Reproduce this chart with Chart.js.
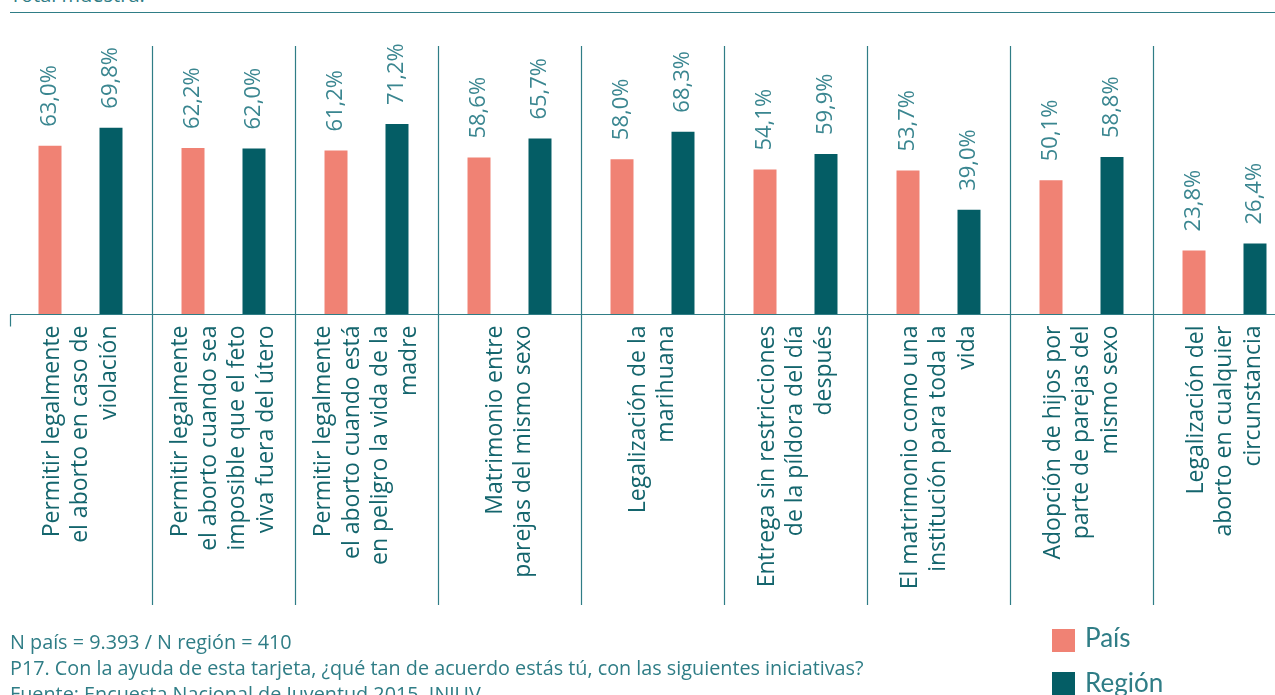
<!DOCTYPE html>
<html>
<head>
<meta charset="utf-8">
<script src="https://cdn.jsdelivr.net/npm/chart.js@4.4.0/dist/chart.umd.min.js"></script>
<style>
  html, body { margin: 0; padding: 0; background: #fff; overflow: hidden; width: 1275px; height: 695px; }
  #wrap { position: relative; width: 1275px; height: 695px; overflow: hidden; }
  #chart { position: absolute; left: 0; top: 0; }
  .title { position: absolute; left: 10px; top: -19px; font: 20px "Open Sans", sans-serif; color: #2f7d86; }
  .topline { position: absolute; left: 10px; top: 12px; width: 1265px; height: 1px; background: #2f7d86; }
  .foot { position: absolute; left: 10px; font: 19.8px "Open Sans", sans-serif; color: #2f7d86; white-space: nowrap; }
  .leg { position: absolute; left: 1052px; font: 26px "Lato", "Open Sans", sans-serif; color: #2f7d86; }
  .leg span.sw { position: absolute; left: 0; width: 23px; height: 23px; }
  .leg span.tx { position: absolute; left: 33px; white-space: nowrap; }
</style>
</head>
<body>
<div id="wrap">
  <div class="title">Total muestra.</div>
  <div class="topline"></div>
  <canvas id="chart" width="1300" height="695"></canvas>
  <div class="foot" style="top:628px">N país = 9.393 / N región = 410</div>
  <div class="foot" style="top:654px">P17. Con la ayuda de esta tarjeta, ¿qué tan de acuerdo estás tú, con las siguientes iniciativas?</div>
  <div class="foot" style="top:680px">Fuente: Encuesta Nacional de Juventud 2015, INJUV.</div>
  <div class="leg" style="top:629px"><span class="sw" style="background:#f08274"></span><span class="tx" style="top:-8px">País</span></div>
  <div class="leg" style="top:672px"><span class="sw" style="background:#045d65"></span><span class="tx" style="top:-6px">Región</span></div>
</div>
<script>
// Data
const categories = [
    ['Permitir legalmente', 'el aborto en caso de', 'violación'],
    ['Permitir legalmente', 'el aborto cuando sea', 'imposible que el feto', 'viva fuera del útero'],
    ['Permitir legalmente', 'el aborto cuando está', 'en peligro la vida de la', 'madre'],
    ['Matrimonio entre', 'parejas del mismo sexo'],
    ['Legalización de la', 'marihuana'],
    ['Entrega sin restricciones', 'de la píldora del día', 'después'],
    ['El matrimonio como una', 'institución para toda la', 'vida'],
    ['Adopción de hijos por', 'parte de parejas del', 'mismo sexo'],
    ['Legalización del', 'aborto en cualquier', 'circunstancia']
];
const paisValues = [63.0, 62.2, 61.2, 58.6, 58.0, 54.1, 53.7, 50.1, 23.8];
const regionValues = [69.8, 62.0, 71.2, 65.7, 68.3, 59.9, 39.0, 58.8, 26.4];

const PINK = '#f08274';
const TEAL = '#045d65';
const LINE = '#2f7d86';

function fmt(v) {
    return v.toFixed(1).replace('.', ',') + '%';
}

// custom drawing: baseline, separators, value labels, category labels
const decorations = {
    id: 'decorations',
    afterDatasetsDraw(chart) {
        const ctx = chart.ctx;
        const x = chart.scales.x;
        const y = chart.scales.y;
        const base = Math.round(y.getPixelForValue(0)) + 0.5;

        ctx.save();
        ctx.strokeStyle = LINE;
        ctx.lineWidth = 1.2;
        ctx.beginPath();
        ctx.moveTo(10, base);
        ctx.lineTo(1275, base);
        ctx.moveTo(10.5, base);
        ctx.lineTo(10.5, base + 12);
        for (let i = 0; i < categories.length - 1; i++) {
            const sx = Math.round((x.getPixelForValue(i) + x.getPixelForValue(i + 1)) / 2) + 0.5;
            ctx.moveTo(sx, y.getPixelForValue(100) - 1);
            ctx.lineTo(sx, 605);
        }
        ctx.stroke();

        // value labels
        ctx.font = '22px "Open Sans", sans-serif';
        ctx.fillStyle = '#3a8690';
        ctx.textAlign = 'left';
        ctx.textBaseline = 'middle';
        chart.data.datasets.forEach((ds, di) => {
            chart.getDatasetMeta(di).data.forEach((bar, i) => {
                ctx.save();
                ctx.translate(bar.x, bar.y - 19);
                ctx.rotate(-Math.PI / 2);
                ctx.fillText(fmt(ds.data[i]), 0, 0);
                ctx.restore();
            });
        });

        // category labels
        ctx.font = '23px "Open Sans", sans-serif';
        ctx.fillStyle = '#14656d';
        ctx.textAlign = 'right';
        const lh = 28.5;
        categories.forEach((lines, i) => {
            const cx = x.getPixelForValue(i);
            lines.forEach((ln, j) => {
                ctx.save();
                ctx.translate(cx + (j - (lines.length - 1) / 2) * lh, base + 11);
                ctx.rotate(-Math.PI / 2);
                ctx.fillText(ln, 0, 0);
                ctx.restore();
            });
        });
        ctx.restore();
    }
};

new Chart(document.getElementById('chart'), {
    type: 'bar',
    data: {
        labels: categories,
        datasets: [
            { label: 'País', data: paisValues, backgroundColor: PINK },
            { label: 'Región', data: regionValues, backgroundColor: TEAL }
        ]
    },
    options: {
        responsive: false,
        animation: false,
        categoryPercentage: 0.853,
        barPercentage: 0.377,
        layout: { padding: { left: 9, right: 4, top: 47, bottom: 381 } },
        scales: {
            x: { display: false },
            y: { display: false, min: 0, max: 100 }
        },
        plugins: { legend: { display: false }, tooltip: { enabled: false } }
    },
    plugins: [decorations]
});
</script>
</body>
</html>
